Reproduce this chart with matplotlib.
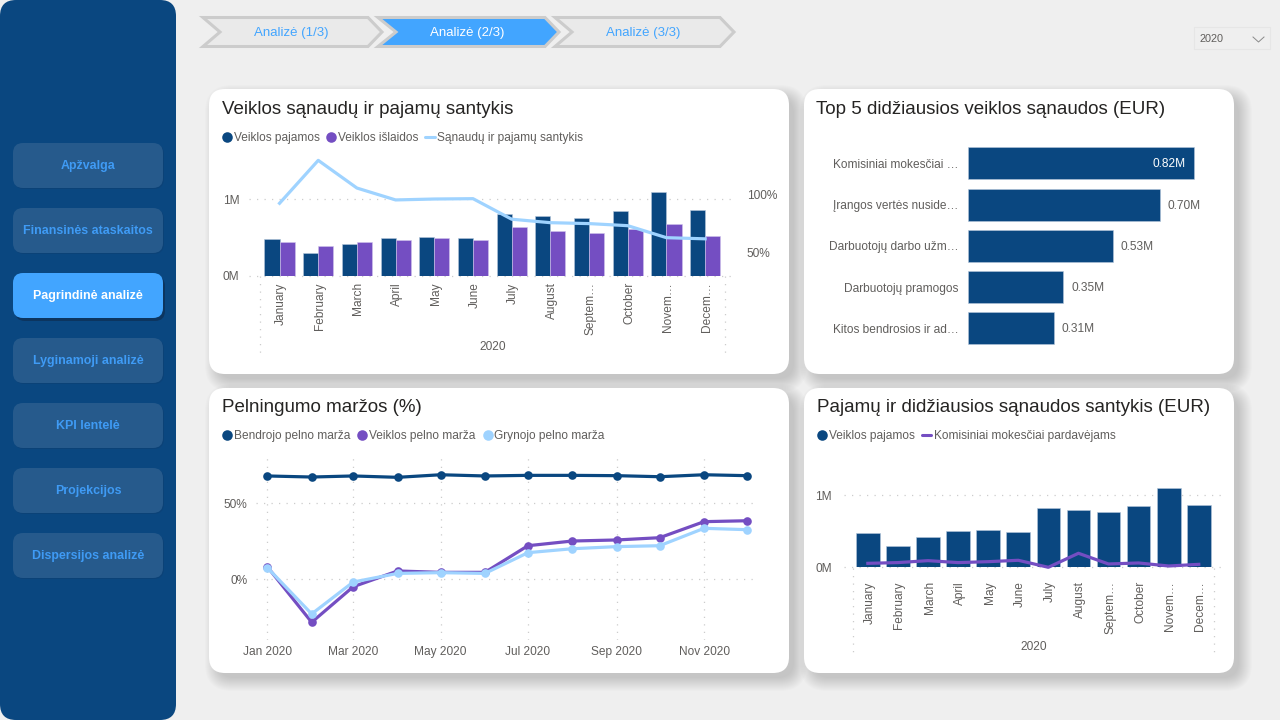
import numpy as np
import matplotlib
matplotlib.use("Agg")
import matplotlib.pyplot as plt
import matplotlib.dates as mdates
from matplotlib.patches import FancyBboxPatch, Polygon, Rectangle
from matplotlib.transforms import ScaledTranslation

plt.rcParams['font.family'] = ['Liberation Sans', 'DejaVu Sans']

# data
months = ["January", "February", "March", "April", "May", "June", "July",
          "August", "Septem…", "October", "Novem…", "Decem…"]
revenue = [0.478, 0.30, 0.42, 0.50, 0.513, 0.491, 0.815, 0.787, 0.761, 0.843, 1.09, 0.857]
expenses = [0.443, 0.387, 0.443, 0.474, 0.491, 0.47, 0.635, 0.591, 0.565, 0.617, 0.683, 0.526]
ratio = [92.8, 130, 106, 95.7, 96.5, 96.8, 79, 76, 75.2, 73.4, 63, 62]
commission = [0.055, 0.065, 0.092, 0.065, 0.078, 0.097, 0.0, 0.194, 0.046, 0.06, 0.018, 0.041]

cost_names = ["Komisiniai mokesčiai …", "Įrangos vertės nuside…", "Darbuotojų darbo užm…",
              "Darbuotojų pramogos", "Kitos bendrosios ir ad…"]
cost_values = [0.82, 0.697, 0.526, 0.346, 0.313]

month_dates = ["2020-01-01", "2020-02-01", "2020-03-01", "2020-04-01", "2020-05-01", "2020-06-01",
               "2020-07-01", "2020-08-01", "2020-09-01", "2020-10-01", "2020-11-01", "2020-12-01"]
gross_margin = [68.1, 67.4, 68.1, 67.2, 68.9, 68.1, 68.5, 68.5, 68.3, 67.6, 68.9, 68.3]
oper_margin = [8.1, -28.6, -5.1, 5.3, 4.4, 4.4, 22, 25.1, 25.8, 27.3, 37.9, 38.5]
net_margin = [7.5, -23.1, -2, 3.7, 4.2, 3.7, 17.4, 20, 21.4, 22, 33.5, 32.6]

menu = ["Apžvalga", "Finansinės ataskaitos", "Pagrindinė analizė", "Lyginamoji analizė",
        "KPI lentelė", "Projekcijos", "Dispersijos analizė"]
tabs = ["Analizė (1/3)", "Analizė (2/3)", "Analizė (3/3)"]

NAVY = "#0A4780"
PURPLE = "#744EC2"
LIGHT = "#9FD3FF"
BLUE = "#42A5FF"
GREY = "#605E5C"
DARK = "#252423"
DOT = "#CCCCCC"
SMALL = 8.55

fig = plt.figure(figsize=(12.8, 7.2), dpi=100, facecolor="#EFEFEF")

# canvas in pixels for the page around the charts
bg = fig.add_axes([0, 0, 1, 1], zorder=0)
bg.set_xlim(0, 1280)
bg.set_ylim(720, 0)
bg.axis("off")


def rbox(x0, y0, x1, y1, r, **kw):
    bg.add_patch(FancyBboxPatch((x0, y0), x1 - x0, y1 - y0,
                                boxstyle=f"round,pad=0,rounding_size={r}", **kw))


def card(x0, y0, x1, y1):
    # soft shadow, a stack of faint boxes
    for i in range(14):
        g = 11 - i
        rbox(x0 + 7 - g, y0 + 7 - g, x1 + 7 + g, y1 + 7 + g, 16 + max(g, 0),
             fc="black", ec="none", alpha=0.013)
    rbox(x0, y0, x1, y1, 16, fc="white", ec="none")


def dots_h(x0, x1, y):
    bg.plot([x0, x1], [y, y], color=DOT, lw=0.9, ls=(0, (1, 5)))


def dots_v(x, y0, y1):
    bg.plot([x, x], [y0, y1], color=DOT, lw=0.9, ls=(0, (1, 5)))


def place(left, top, right, bottom):
    ax = fig.add_axes([left / 1280, 1 - bottom / 720, (right - left) / 1280, (bottom - top) / 720], zorder=2)
    ax.patch.set_alpha(0)
    for s in ax.spines.values():
        s.set_visible(False)
    ax.tick_params(length=0, labelsize=SMALL, labelcolor=GREY)
    return ax


def nudge_xlabels(ax, px):
    for lab in ax.get_xticklabels():
        lab.set_transform(lab.get_transform() + ScaledTranslation(px / 100, 0, fig.dpi_scale_trans))


def legend_dot(x, y, color, label):
    bg.plot([x], [y], "o", ms=7.6, color=color, mew=0)
    bg.text(x + 7, y + 0.7, label, fontsize=SMALL, color=GREY, va="center")


def legend_line(x0, x1, y, color, label, tx):
    bg.plot([x0, x1], [y, y], color=color, lw=2.2, solid_capstyle="round")
    bg.text(tx, y + 0.7, label, fontsize=SMALL, color=GREY, va="center")


# sidebar and its buttons
rbox(0, 0, 176, 720, 16, fc=NAVY, ec="none")
for i, name in enumerate(menu):
    top = 143 + 65 * i
    if i == 2:
        rbox(15, top + 3, 165, top + 48, 10, fc="#0D2F55", ec="none", alpha=0.75)
        rbox(13, top, 163, top + 45, 10, fc=BLUE, ec="none")
        bg.text(88, top + 23.3, name, fontsize=8.9, color="white", ha="center", va="center", fontweight="bold")
    else:
        rbox(14, top + 1, 164, top + 46, 10, fc="#0D3F72", ec="none", alpha=0.6)
        rbox(13, top, 163, top + 45, 10, fc="#265A8C", ec="none")
        bg.text(88, top + 23.3, name, fontsize=8.9, color="#3F9BF5", ha="center", va="center", fontweight="bold")

# chevron tabs
tab_x = [(203, 220, 368, 382), (378, 396, 545, 559), (555, 572, 720, 734)]
for i, (a, n, b, tip) in enumerate(tab_x):
    pts = [(a, 17.5), (b, 17.5), (tip, 32), (b, 46.5), (a, 46.5), (n, 32)]
    fc = BLUE if i == 1 else "#EAEAEA"
    bg.add_patch(Polygon(pts, closed=True, fc=fc, ec="#CCCCCC", lw=2.2, joinstyle="miter"))
    bg.text((a + tip) / 2 - 1, 32.8, tabs[i], fontsize=9.5, color="white" if i == 1 else BLUE,
            ha="center", va="center")

# year dropdown
bg.add_patch(Rectangle((1194, 27), 76, 22, fc="#EFEFEF", ec="#E6E6E6", lw=0.8))
bg.text(1200, 38.5, "2020", fontsize=7.8, color=GREY, va="center")
bg.plot([1253, 1258.5, 1264], [37, 42, 37], color="#8A8A8A", lw=0.7)

# cards
card(209, 89, 789, 374)
card(804, 89, 1234, 374)
card(209, 388, 789, 673)
card(804, 388, 1234, 673)

for x, y, t in [(222, 109.5, "Veiklos sąnaudų ir pajamų santykis"),
                (816, 109.5, "Top 5 didžiausios veiklos sąnaudos (EUR)"),
                (222, 407.5, "Pelningumo maržos (%)"),
                (817, 407.5, "Pajamų ir didžiausios sąnaudos santykis (EUR)")]:
    bg.text(x, y, t, fontsize=13.5, color=DARK, va="center")

# chart 1: revenue, expenses, ratio
legend_dot(227, 137, NAVY, "Veiklos pajamos")
legend_dot(331, 137, PURPLE, "Veiklos išlaidos")
legend_line(425, 435, 137, LIGHT, "Sąnaudų ir pajamų santykis", 437)
dots_h(249, 735, 199)
dots_h(249, 735, 276)
dots_v(260.2, 276, 355)
dots_v(724.5, 276, 355)
bg.text(493, 347, "2020", fontsize=SMALL, color=GREY, ha="center", va="center")

ax1 = place(260.2, 160, 724.5, 276)
x = np.arange(len(months))
ax1.bar(x - 0.195, revenue, 0.39, color=NAVY, edgecolor="#B5C7DA", lw=0.4)
ax1.bar(x + 0.195, expenses, 0.39, color=PURPLE, edgecolor="#CFC3EC", lw=0.4)
ax1.set_xlim(-0.5, 11.5)
ax1.set_ylim(0, 1.513)
ax1.set_xticks(x, months, rotation=90)
ax1.tick_params(axis="x", pad=4.5)
nudge_xlabels(ax1, 1.5)
ax1.set_yticks([0, 1], ["0M", "1M"])
ax1.tick_params(axis="y", pad=15)
ax1b = ax1.twinx()
ax1b.patch.set_alpha(0)
for s in ax1b.spines.values():
    s.set_visible(False)
ax1b.plot(x, ratio, color=LIGHT, lw=2.3, clip_on=False)
ax1b.set_ylim(29.8, 130.3)
ax1b.set_yticks([50, 100], ["50%", "100%"])
ax1b.tick_params(length=0, labelsize=SMALL, labelcolor=GREY, pad=16)

# chart 2: top costs
ax2 = place(968, 142.7, 1214, 348.9)
ypos = np.arange(len(cost_names))
ax2.barh(ypos, cost_values, 0.777, color=NAVY, edgecolor="#B5C7DA", lw=0.4)
ax2.set_xlim(0, 246 / 275.7)
ax2.set_ylim(4.5, -0.5)
ax2.set_xticks([])
ax2.set_yticks(ypos, cost_names)
ax2.tick_params(axis="y", pad=7)
for i, v in enumerate(cost_values):
    if i == 0:
        ax2.annotate(f"{v:.2f}M", (v, i), xytext=(-6, -0.7), textcoords="offset points",
                     ha="right", va="center", fontsize=SMALL, color="white")
    else:
        ax2.annotate(f"{v:.2f}M", (v, i), xytext=(5.5, -0.7), textcoords="offset points",
                     ha="left", va="center", fontsize=SMALL, color=GREY)

# chart 3: margins, real date axis
legend_dot(227, 435, NAVY, "Bendrojo pelno marža")
legend_dot(362, 435, PURPLE, "Veiklos pelno marža")
legend_dot(487.5, 435, LIGHT, "Grynojo pelno marža")

ax3 = place(256, 458, 757, 640)
dates = mdates.date2num(np.array(month_dates, dtype="datetime64[D]"))
for values, color in [(gross_margin, NAVY), (oper_margin, PURPLE), (net_margin, LIGHT)]:
    ax3.plot(dates, values, "-o", color=color, lw=2.3, ms=6.2, mew=0, clip_on=False)
px_per_day = (747 - 267.3) / (dates[-1] - dates[0])
ax3.set_xlim(dates[0] - (267.3 - 256) / px_per_day, dates[-1] + (757 - 747) / px_per_day)
ax3.set_ylim((579 - 640) / 1.513, (579 - 458) / 1.513)
ax3.set_xticks(dates[::2], [mdates.num2date(d).strftime("%b %Y") for d in dates[::2]])
ax3.set_yticks([0, 50], ["0%", "50%"])
ax3.tick_params(axis="x", pad=4.5)
ax3.tick_params(axis="y", pad=6)
ax3.grid(True, color=DOT, lw=0.9, ls=(0, (1, 5)))
ax3.set_axisbelow(True)

# chart 4: revenue against commissions
legend_dot(822, 435, NAVY, "Veiklos pajamos")
legend_line(922, 931, 435, PURPLE, "Komisiniai mokesčiai pardavėjams", 934)
dots_h(844, 1223, 495)
dots_h(844, 1223, 567.3)
dots_v(853, 568, 656)
dots_v(1214, 568, 656)
bg.text(1034, 647, "2020", fontsize=SMALL, color=GREY, ha="center", va="center")

ax4 = place(852.8, 470, 1213.8, 567.3)
ax4.bar(x, revenue, 0.787, color=NAVY, edgecolor="#B5C7DA", lw=0.4)
ax4.plot(x, commission, color=PURPLE, lw=2.3, clip_on=False)
ax4.set_xlim(-0.5, 11.5)
ax4.set_ylim(0, 97.3 / 72.3)
ax4.set_xticks(x, months, rotation=90)
ax4.tick_params(axis="x", pad=10)
nudge_xlabels(ax4, 1.5)
ax4.set_yticks([0, 1], ["0M", "1M"])
ax4.tick_params(axis="y", pad=15)

fig.savefig("out.png", dpi=100, facecolor=fig.get_facecolor())
